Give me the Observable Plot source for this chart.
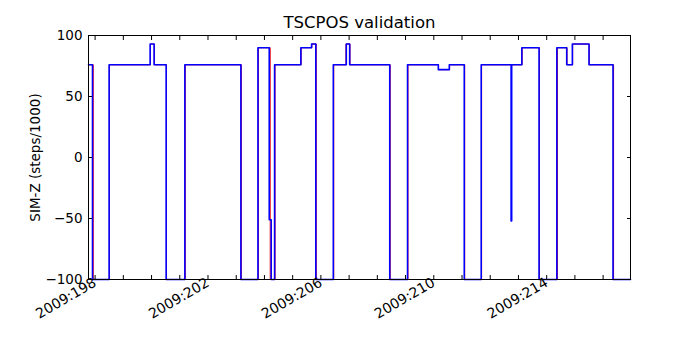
<!DOCTYPE html>
<html><head><meta charset="utf-8">
<script src="https://cdn.jsdelivr.net/npm/d3@7"></script>
<script src="https://cdn.jsdelivr.net/npm/@observablehq/plot@0.6"></script>
<style>body{margin:0;background:#fff}</style>
</head><body><div id="chart"></div>
<script>
// Step series: day-of-year (2009) where a new level starts, and the level (steps/1000)
const blueDay = [197.766, 197.908, 198.496, 199.95, 200.09, 200.517, 201.18, 203.165, 203.77, 204.17, 204.24, 204.36, 205.29, 205.67, 205.82, 206.44, 206.90, 207.02, 208.44, 209.07, 210.16, 210.55, 211.08, 211.68, 212.74, 212.76, 213.12, 213.73, 214.36, 214.71, 214.91, 215.50, 216.35, 216.97];
const blueVal = [76, -100, 76, 93, 76, -100, 76, -100, 90, -51, -100, 76, 90, 93, -100, 76, 93, 76, -100, 76, 72, 76, -100, 76, -52, 76, 90, -100, 90, 76, 93, 76, -100, -100];
const redDay = [197.766, 197.935, 198.51, 199.96, 200.10, 200.53, 201.195, 203.18, 203.785, 204.205, 204.375, 205.30, 205.68, 205.835, 206.455, 206.89, 207.03, 208.455, 209.085, 210.17, 210.56, 211.095, 211.695, 213.13, 213.745, 214.38, 214.72, 214.92, 215.51, 216.37, 216.97];
const redVal = [76, -100, 76, 93, 76, -100, 76, -100, 90, -100, 76, 90, 93, -100, 76, 93, 76, -100, 76, 72, 76, -100, 76, 90, -100, 90, 76, 93, 76, -100, -100];

const xDomain = [197.766, 216.97];
const yDomain = [-100, 100];
const yTicks = [-100, -50, 0, 50, 100];
const dayTicks = d3.range(198, 217);
const labelTicks = [198, 202, 206, 210, 214];
const title = "TSCPOS validation";
const yLabel = "SIM-Z (steps/1000)";

const rows = (days, vals) => days.map((d, i) => ({day: d, val: vals[i]}));

const chart = Plot.plot({
  width: 700, height: 350,
  marginLeft: 88, marginRight: 70, marginTop: 35, marginBottom: 71,
  style: {fontFamily: "DejaVu Sans", fontSize: "13.5px", color: "black", background: "white"},
  x: {domain: xDomain},
  y: {domain: yDomain},
  marks: [
    Plot.line(rows(redDay, redVal), {x: "day", y: "val", curve: "step-after", stroke: "#ff0000", strokeWidth: 1}),
    Plot.line(rows(blueDay, blueVal), {x: "day", y: "val", curve: "step-after", stroke: "#0000ff", strokeWidth: 1.6}),
    Plot.frame({stroke: "black", strokeWidth: 1}),
    Plot.axisY(yTicks, {tickSize: 0, tickPadding: 6, label: yLabel, labelAnchor: "center", labelArrow: "none", labelOffset: 58}),
    Plot.axisY(yTicks, {tickSize: -4, fill: "none", label: null}),
    Plot.axisY(yTicks, {anchor: "right", tickSize: -4, fill: "none", label: null}),
    Plot.axisX(dayTicks, {tickSize: -4, fill: "none", label: null}),
    Plot.axisX(dayTicks, {anchor: "top", tickSize: -4, fill: "none", label: null}),
    Plot.axisX(labelTicks, {tickSize: 0, tickPadding: 2, tickRotate: -30, textAnchor: "end", tickFormat: d => "2009:" + d, label: null, fontSize: 14}),
    Plot.text([title], {frameAnchor: "top", lineAnchor: "middle", dy: -13, fontSize: 16.5, text: d => d})
  ]
});
document.getElementById("chart").append(chart);
</script>
</body></html>
